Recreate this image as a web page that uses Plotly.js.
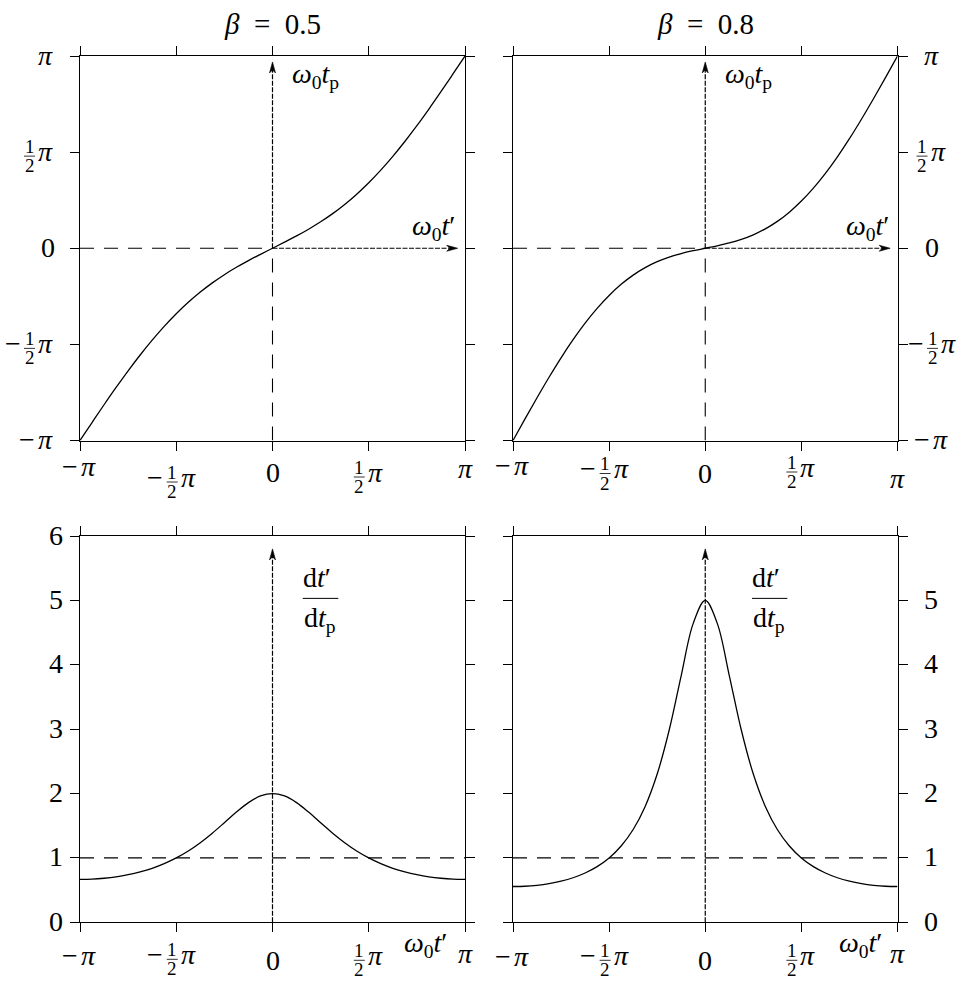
<!DOCTYPE html>
<html>
<head>
<meta charset="utf-8">
<script src="https://cdn.plot.ly/plotly-3.0.1.min.js"></script>
<style>html,body{margin:0;padding:0;background:#fff;}</style>
</head>
<body>
<div id="chart" style="width:972px;height:990px;"></div>
<script>
// ---------- data (x in units of pi) ----------
const omegaTPrime = [-1,-0.9375,-0.875,-0.8125,-0.75,-0.6875,-0.625,-0.5625,-0.5,-0.4375,-0.375,-0.3125,-0.25,-0.1875,-0.125,-0.0625,0,0.0625,0.125,0.1875,0.25,0.3125,0.375,0.4375,0.5,0.5625,0.625,0.6875,0.75,0.8125,0.875,0.9375,1];
// omega0 t_p (units of pi)
const tpBeta05 = [-1,-0.9065,-0.8141,-0.7241,-0.6375,-0.5552,-0.4780,-0.4064,-0.3409,-0.2814,-0.2280,-0.1802,-0.1375,-0.0991,-0.0641,-0.0315,0,0.0315,0.0641,0.0991,0.1375,0.1802,0.2280,0.2814,0.3409,0.4064,0.4780,0.5552,0.6375,0.7241,0.8141,0.9065,1];
const tpBeta08 = [-1,-0.8878,-0.7776,-0.6710,-0.5699,-0.4758,-0.3897,-0.3127,-0.2454,-0.1877,-0.1397,-0.1008,-0.0699,-0.0460,-0.0276,-0.0128,0,0.0128,0.0276,0.0460,0.0699,0.1008,0.1397,0.1877,0.2454,0.3127,0.3897,0.4758,0.5699,0.6710,0.7776,0.8878,1];
// dt'/dt_p
const ratioBeta05 = [0.667,0.671,0.684,0.706,0.739,0.783,0.839,0.911,1,1.108,1.237,1.385,1.547,1.712,1.859,1.962,2,1.962,1.859,1.712,1.547,1.385,1.237,1.108,1,0.911,0.839,0.783,0.739,0.706,0.684,0.671,0.667];
const ratioBeta08 = [0.556,0.560,0.575,0.601,0.639,0.692,0.766,0.865,1,1.185,1.441,1.800,2.303,2.987,3.833,4.643,5,4.643,3.833,2.987,2.303,1.800,1.441,1.185,1,0.865,0.766,0.692,0.639,0.601,0.575,0.560,0.556];

const titles = ['<i>β</i>\u2002=\u20020.5', '<i>β</i>\u2002=\u20020.8'];
const piTickVals = [-1,-0.5,0,0.5,1];
const piTickText = ['−π','−½π','0','½π','π'];
const ratioTickVals = [0,1,2,3,4,5,6];
const ratioTickTextL = ['0','1','2','3','4','5','6'];
const ratioTickTextR = ['0','1','2','3','4','5',''];

// ---------- helpers ----------
const FF = 'Liberation Serif, Times New Roman, serif';
const annotations = [];
const shapes = [];

function ann(xref, yref, x, y, xs, ys, text, size, extra) {
  return Object.assign({xref, yref, x, y, xshift: xs, yshift: ys, text, showarrow: false,
    xanchor: 'center', yanchor: 'middle', font: {family: FF, size: size, color: '#000'}}, extra || {});
}
function parts(label) {
  const out = [];
  let s = label;
  const frac = s.indexOf('½') >= 0;
  if (s[0] === '−') { out.push({k: 't', s: '−', w: frac ? 21 : 18}); s = s.slice(1); }
  if (s[0] === '½') { out.push({k: 'f', w: 13}); s = s.slice(1); }
  if (s === 'π') out.push({k: 't', s: '<i>π</i>', w: 19});
  else if (s !== '') out.push({k: 't', s: s, w: 14});
  return out;
}
function tickLabel(o) {
  const ps = parts(o.label);
  const W = ps.reduce((a, p) => a + p.w, 0);
  let cur = o.align === 'center' ? -W / 2 : (o.align === 'right' ? -W : 0);
  ps.forEach(p => {
    const c = o.dx + cur + p.w / 2;
    if (p.k === 't') {
      annotations.push(ann(o.xref, o.yref, o.x, o.y, c, o.dy, p.s, 28));
    } else {
      annotations.push(ann(o.xref, o.yref, o.x, o.y, c, o.dy + 5, '1', 19));
      annotations.push(ann(o.xref, o.yref, o.x, o.y, c, o.dy - 14.5, '2', 19));
      shapes.push({type: 'line', xref: o.xref, yref: o.yref, xsizemode: 'pixel', ysizemode: 'pixel',
        xanchor: o.x, yanchor: o.y, x0: c - 5.5, x1: c + 5.5, y0: o.dy - 5, y1: o.dy - 5,
        line: {color: '#000', width: 0.8}});
    }
    cur += p.w;
  });
}
function xLabels(ax, vals, texts, dys, dxs) {
  vals.forEach((v, i) => tickLabel({xref: ax, yref: 'y' + (ax.slice(1)) + ' domain', x: v, y: 0,
    dx: dxs[i], dy: dys[i], label: texts[i], align: 'center'}));
}
function yLabels(ax, side, vals, texts, dx, align) {
  vals.forEach((v, i) => tickLabel({xref: 'x' + ax.slice(1) + ' domain', yref: ax, x: side, y: v,
    dx: dx, dy: 1, label: texts[i], align: align}));
}
function axis(domain, range, tickvals, anchor) {
  return {domain, range, tickvals, showticklabels: false, ticks: 'outside', ticklen: 9, tickwidth: 1,
    tickcolor: '#000', showline: true, linecolor: '#000', linewidth: 1, mirror: 'ticks',
    showgrid: false, zeroline: false, fixedrange: true, anchor};
}
function line(xr, yr, x0, y0, x1, y1, dash, w) {
  shapes.push({type: 'line', xref: xr, yref: yr, x0, y0, x1, y1, layer: 'above',
    line: {color: '#000', width: w, dash: dash}});
}
function arrowHead(xr, yr, x, y, dir) {
  const path = dir === 'up' ? 'M0,0 L-3,-11 L0,-8 L3,-11 Z' : 'M0,0 L-11,3 L-8,0 L-11,-3 Z';
  shapes.push({type: 'path', xref: xr, yref: yr, xsizemode: 'pixel', ysizemode: 'pixel',
    xanchor: x, yanchor: y, path: path, fillcolor: '#000', layer: 'above',
    line: {color: '#000', width: 0.6}});
}

// ---------- traces ----------
const lineStyle = {color: '#000', width: 1.3, shape: 'spline', smoothing: 1};
const traces = [
  {x: omegaTPrime, y: tpBeta05, xaxis: 'x', yaxis: 'y', mode: 'lines', line: lineStyle, hoverinfo: 'skip'},
  {x: omegaTPrime, y: tpBeta08, xaxis: 'x2', yaxis: 'y2', mode: 'lines', line: lineStyle, hoverinfo: 'skip'},
  {x: omegaTPrime, y: ratioBeta05, xaxis: 'x3', yaxis: 'y3', mode: 'lines', line: lineStyle, hoverinfo: 'skip'},
  {x: omegaTPrime, y: ratioBeta08, xaxis: 'x4', yaxis: 'y4', mode: 'lines', line: lineStyle, hoverinfo: 'skip'}
];

// ---------- guides & arrows ----------
const LONG = '14px,10px', FINE = '5px,1.5px';
['', '2'].forEach(n => {
  const xr = 'x' + n, yr = 'y' + n;
  line(xr, yr, -1, 0, 0, 0, LONG, 1.1);
  line(xr, yr, 0, -1, 0, 0, LONG, 1.1);
  line(xr, yr, 0, 0, 0, 0.94, FINE, 1.2);
  line(xr, yr, 0, 0, 0.935, 0, FINE, 1.2);
  arrowHead(xr, yr, 0, 0.969, 'up');
  arrowHead(xr, yr, 0.962, 0, 'right');
});
['3', '4'].forEach(n => {
  const xr = 'x' + n, yr = 'y' + n;
  line(xr, yr, -1, 1, 1, 1, LONG, 1.1);
  line(xr, yr, 0, 0, 0, 5.7, FINE, 1.2);
  arrowHead(xr, yr, 0, 5.8, 'up');
});

// ---------- tick labels ----------
xLabels('x', piTickVals, piTickText, [-25.5, -36.5, -31.5, -31.5, -28], [-1, -5, 0, 0, 0]);
xLabels('x2', piTickVals, piTickText, [-25, -28, -32.5, -26.5, -38], [-1, -5, 0, 0, 0]);
xLabels('x3', piTickVals, piTickText, [-33, -32, -38.5, -33, -31], [-1, -5, 0, 0, 0]);
xLabels('x4', piTickVals, piTickText, [-34, -33, -38.5, -33, -31], [-1, -5, 0, 0, 0]);
yLabels('y', 0, piTickVals, piTickText, -25, 'right');
yLabels('y2', 1, piTickVals, piTickText, 34, 'center');
yLabels('y3', 0, ratioTickVals, ratioTickTextL, -17, 'right');
yLabels('y4', 1, ratioTickVals, ratioTickTextR, 33, 'center');

// ---------- titles & axis names ----------
const P = (px) => px / 972, Q = (py) => 1 - py / 990;
annotations.push(ann('paper', 'paper', P(272), Q(24), 0, 0, titles[0], 29));
annotations.push(ann('paper', 'paper', P(705), Q(24), 0, 0, titles[1], 29));

const tpName = '<i>ω</i><sub>0</sub><i>t</i><sub>p</sub>';
const tName = '<i>ω</i><sub>0</sub><i>t</i>′';
annotations.push(ann('x', 'y', 0, 0.9, 17, 0, tpName, 28, {xanchor: 'left'}));
annotations.push(ann('x2', 'y2', 0, 0.9, 17.5, 0, tpName, 28, {xanchor: 'left'}));
annotations.push(ann('x', 'y', 0.958, 0.11, 0, 0, tName, 28, {xanchor: 'right'}));
annotations.push(ann('x2', 'y2', 0.966, 0.11, 0, 0, tName, 28, {xanchor: 'right'}));
annotations.push(ann('x3', 'y3 domain', 0.795, 0, 0, -22, tName, 28));
annotations.push(ann('x4', 'y4 domain', 0.809, 0, 0, -22, tName, 28));

// dt'/dt_p fraction labels
[['x3', 'y3', 0.230, 0.245, 0.157, 0.342], ['x4', 'y4', 0.317, 0.332, 0.243, 0.427]].forEach(a => {
  annotations.push(ann(a[0], a[1], a[2], 5.354, 0, 0, 'd<i>t</i>′', 28));
  annotations.push(ann(a[0], a[1], a[3], 4.70, 0, 0, 'd<i>t</i><sub>p</sub>', 28));
  shapes.push({type: 'line', xref: a[0], yref: a[1], x0: a[4], x1: a[5], y0: 5.031, y1: 5.031,
    line: {color: '#000', width: 1}});
});

// ---------- layout ----------
const dxL = [80 / 972, 465 / 972], dxR = [513 / 972, 897.5 / 972];
const dyT = [1 - 440.5 / 990, 1 - 56 / 990], dyB = [1 - 922.3 / 990, 1 - 536 / 990];
const layout = {
  width: 972, height: 990, margin: {l: 0, r: 0, t: 0, b: 0},
  paper_bgcolor: '#fff', plot_bgcolor: '#fff', showlegend: false,
  font: {family: FF, size: 28, color: '#000'},
  xaxis: axis(dxL, [-1, 1], piTickVals, 'y'),
  yaxis: axis(dyT, [-1, 1], piTickVals, 'x'),
  xaxis2: axis(dxR, [-1, 1], piTickVals, 'y2'),
  yaxis2: axis(dyT, [-1, 1], piTickVals, 'x2'),
  xaxis3: axis(dxL, [-1, 1], piTickVals, 'y3'),
  yaxis3: axis(dyB, [0, 6], ratioTickVals, 'x3'),
  xaxis4: axis(dxR, [-1, 1], piTickVals, 'y4'),
  yaxis4: axis(dyB, [0, 6], ratioTickVals, 'x4'),
  annotations, shapes
};
Plotly.newPlot('chart', traces, layout, {staticPlot: true, displayModeBar: false});
</script>
</body>
</html>
